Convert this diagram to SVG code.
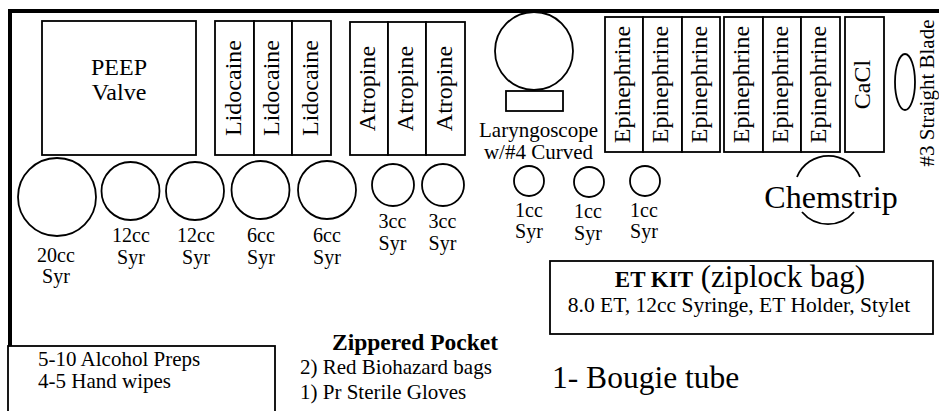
<svg xmlns="http://www.w3.org/2000/svg" width="939" height="411" viewBox="0 0 939 411" font-family="'Liberation Serif', 'DejaVu Serif', serif">
<style>
  text { font-family: 'Liberation Serif', 'DejaVu Serif', serif; fill: #000; }
  .box { fill: #fff; stroke: #000; stroke-width: 1.8; }
  .ln { fill: none; stroke: #000; stroke-width: 1.8; }
  .b24 { font-size: 24px; }
  .s20 { font-size: 20px; }
  .s21 { font-size: 21px; }
  .mid { text-anchor: middle; }
</style>
<rect x="0" y="0" width="939" height="411" fill="#fff"/>
<g id="frame">
  <line x1="8" y1="11" x2="939" y2="11" stroke="#000" stroke-width="4"/>
  <line x1="10" y1="9" x2="10" y2="347" stroke="#000" stroke-width="4"/>
</g>
<g id="peep-valve">
  <rect class="box" x="42" y="21" width="154" height="134"/>
  <text class="b24 mid" x="119" y="75">PEEP</text>
  <text class="b24 mid" x="119" y="100">Valve</text>
</g>
<g id="lidocaine">
  <rect class="box" x="215" y="21" width="39" height="134"/>
  <rect class="box" x="254" y="21" width="38" height="134"/>
  <rect class="box" x="292" y="21" width="39" height="134"/>
  <text class="b24 mid" transform="translate(240.5,88) rotate(-90)">Lidocaine</text>
  <text class="b24 mid" transform="translate(279,88) rotate(-90)">Lidocaine</text>
  <text class="b24 mid" transform="translate(317.5,88) rotate(-90)">Lidocaine</text>
</g>
<g id="atropine">
  <rect class="box" x="350" y="22" width="38" height="133"/>
  <rect class="box" x="388" y="22" width="38" height="133"/>
  <rect class="box" x="426" y="22" width="39" height="133"/>
  <text class="b24 mid" transform="translate(375,88.5) rotate(-90)">Atropine</text>
  <text class="b24 mid" transform="translate(413,88.5) rotate(-90)">Atropine</text>
  <text class="b24 mid" transform="translate(451.5,88.5) rotate(-90)">Atropine</text>
</g>
<g id="laryngoscope">
  <circle class="ln" cx="534" cy="51" r="39"/>
  <rect class="box" x="506" y="91" width="57" height="20"/>
  <text class="s21 mid" x="538.5" y="137">Laryngoscope</text>
  <text class="s21 mid" x="538.5" y="159">w/#4 Curved</text>
</g>
<g id="epinephrine-1">
  <rect class="box" x="605" y="17" width="38" height="135"/>
  <rect class="box" x="643" y="17" width="39" height="135"/>
  <rect class="box" x="682" y="17" width="38" height="135"/>
  <text class="b24 mid" transform="translate(629.5,84.5) rotate(-90)">Epinephrine</text>
  <text class="b24 mid" transform="translate(668,84.5) rotate(-90)">Epinephrine</text>
  <text class="b24 mid" transform="translate(706.5,84.5) rotate(-90)">Epinephrine</text>
</g>
<g id="epinephrine-2">
  <rect class="box" x="724" y="17" width="39" height="135"/>
  <rect class="box" x="763" y="17" width="38" height="135"/>
  <rect class="box" x="801" y="17" width="39" height="135"/>
  <text class="b24 mid" transform="translate(749,84.5) rotate(-90)">Epinephrine</text>
  <text class="b24 mid" transform="translate(787.5,84.5) rotate(-90)">Epinephrine</text>
  <text class="b24 mid" transform="translate(826,84.5) rotate(-90)">Epinephrine</text>
</g>
<g id="cacl">
  <rect class="box" x="845" y="17" width="39" height="135"/>
  <text class="b24 mid" transform="translate(870,84.5) rotate(-90)">CaCl</text>
</g>
<g id="straight-blade">
  <ellipse class="ln" cx="905" cy="82" rx="10" ry="28"/>
  <text class="s21 mid" transform="translate(934,93) rotate(-90)">#3 Straight Blade</text>
</g>
<g id="chemstrip">
  <path class="ln" d="M797,177 A34,34 0 0 1 860,177"/>
  <path class="ln" d="M802,212 A34,34 0 0 0 854,212"/>
  <text class="mid" x="831" y="208" style="font-size:32px">Chemstrip</text>
</g>
<g id="syr-20cc">
  <circle class="ln" cx="57" cy="197" r="39"/>
  <text class="s20 mid" x="56" y="262">20cc</text>
  <text class="s20 mid" x="56" y="283">Syr</text>
</g>
<g id="syr-12cc-1">
  <circle class="ln" cx="130.5" cy="191" r="29"/>
  <text class="s20 mid" x="131" y="242">12cc</text>
  <text class="s20 mid" x="131" y="264">Syr</text>
</g>
<g id="syr-12cc-2">
  <circle class="ln" cx="195" cy="191" r="29"/>
  <text class="s20 mid" x="196" y="242">12cc</text>
  <text class="s20 mid" x="196" y="264">Syr</text>
</g>
<g id="syr-6cc-1">
  <circle class="ln" cx="260.5" cy="190" r="29"/>
  <text class="s20 mid" x="261" y="242">6cc</text>
  <text class="s20 mid" x="261" y="264">Syr</text>
</g>
<g id="syr-6cc-2">
  <circle class="ln" cx="327" cy="190" r="29"/>
  <text class="s20 mid" x="327" y="242">6cc</text>
  <text class="s20 mid" x="327" y="264">Syr</text>
</g>
<g id="syr-3cc-1">
  <circle class="ln" cx="393" cy="185" r="21"/>
  <text class="s20 mid" x="392.5" y="228">3cc</text>
  <text class="s20 mid" x="392.5" y="250">Syr</text>
</g>
<g id="syr-3cc-2">
  <circle class="ln" cx="443" cy="185" r="21"/>
  <text class="s20 mid" x="442.5" y="228">3cc</text>
  <text class="s20 mid" x="442.5" y="250">Syr</text>
</g>
<g id="syr-1cc-1">
  <circle class="ln" cx="529" cy="181" r="15"/>
  <text class="s20 mid" x="529" y="217">1cc</text>
  <text class="s20 mid" x="529" y="238">Syr</text>
</g>
<g id="syr-1cc-2">
  <circle class="ln" cx="589" cy="182" r="15"/>
  <text class="s20 mid" x="588" y="218">1cc</text>
  <text class="s20 mid" x="588" y="240">Syr</text>
</g>
<g id="syr-1cc-3">
  <circle class="ln" cx="645" cy="181" r="15"/>
  <text class="s20 mid" x="644" y="217">1cc</text>
  <text class="s20 mid" x="644" y="238">Syr</text>
</g>
<g id="et-kit">
  <rect class="box" x="550" y="261" width="383" height="73"/>
  <text class="mid" x="740" y="287"><tspan style="font-weight:bold;font-size:23px">ET KIT</tspan><tspan style="font-size:31px"> (ziplock bag)</tspan></text>
  <text class="mid" x="739" y="312" style="font-size:21.5px">8.0 ET, 12cc Syringe, ET Holder, Stylet</text>
</g>
<g id="alcohol">
  <rect class="box" x="8" y="346" width="267" height="70"/>
  <text class="s21" x="38" y="366">5-10 Alcohol Preps</text>
  <text class="s21" x="38" y="388">4-5 Hand wipes</text>
</g>
<g id="zippered-pocket">
  <text class="mid" x="415" y="350" style="font-weight:bold;font-size:23.5px">Zippered Pocket</text>
  <text class="s21" x="300" y="374">2) Red Biohazard bags</text>
  <text class="s21" x="300" y="399">1) Pr Sterile Gloves</text>
</g>
<g id="bougie">
  <text x="552" y="388" style="font-size:31.5px">1- Bougie tube</text>
</g>
<g id="connectors"></g>
</svg>
